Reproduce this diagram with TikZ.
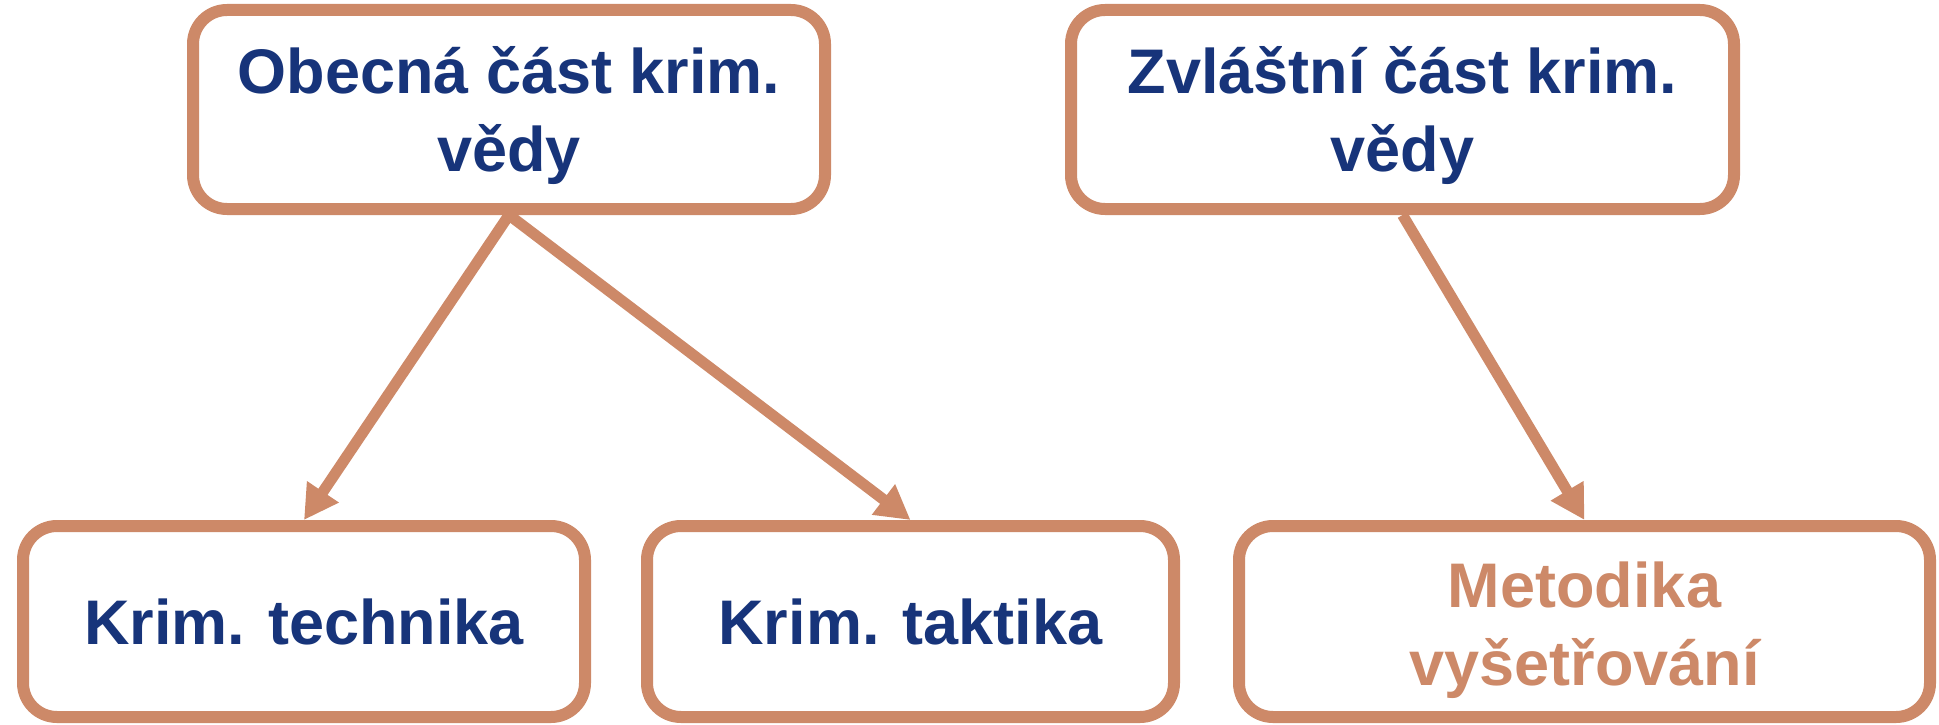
\documentclass[tikz,border=0pt]{standalone}
\usepackage{fontspec}
\setmainfont{Liberation Sans}
\usetikzlibrary{arrows.meta}
\definecolor{navy}{RGB}{23,52,122}
\definecolor{brn}{RGB}{205,137,104}
\newcommand{\twolines}[3]{\raisebox{#3}[\height][\depth]{\begin{tabular}{@{}c@{}}#1\\#2\end{tabular}}}
\tikzset{
  box/.style={draw=brn, line width=12pt, rounded corners=34pt, fill=white,
    inner sep=0pt, align=center, text=navy,
    font=\fontsize{63}{78}\selectfont\bfseries},
  conn/.style={draw=brn, line width=11pt, -{Triangle[length=34pt,width=36pt]}}
}
\begin{document}
\begin{tikzpicture}[x=1pt,y=-1pt]
\useasboundingbox (0,0) rectangle (1939,725);
\node[box, minimum width=632pt, minimum height=199pt] (b1) at (509,109.5) {\twolines{Obecná část krim.}{vědy}{-7pt}};
\node[box, minimum width=663pt, minimum height=199pt] (b2) at (1402.5,109.5) {\twolines{Zvláštní část krim.}{vědy}{-7pt}};
\node[box, minimum width=562pt, minimum height=191pt] (b3) at (304,621.5) {Krim. technika};
\node[box, minimum width=527pt, minimum height=191pt] (b4) at (910.5,621.5) {Krim. taktika};
\node[box, minimum width=691pt, minimum height=191pt, text=brn] (b5) at (1584.5,621.5) {\twolines{Metodika}{vyšetřování}{-9.5pt}};
\draw[conn] (b1.south) -- (b3.north);
\draw[conn] (b1.south) -- (b4.north);
\draw[conn] (b2.south) -- (b5.north);
\end{tikzpicture}
\end{document}
